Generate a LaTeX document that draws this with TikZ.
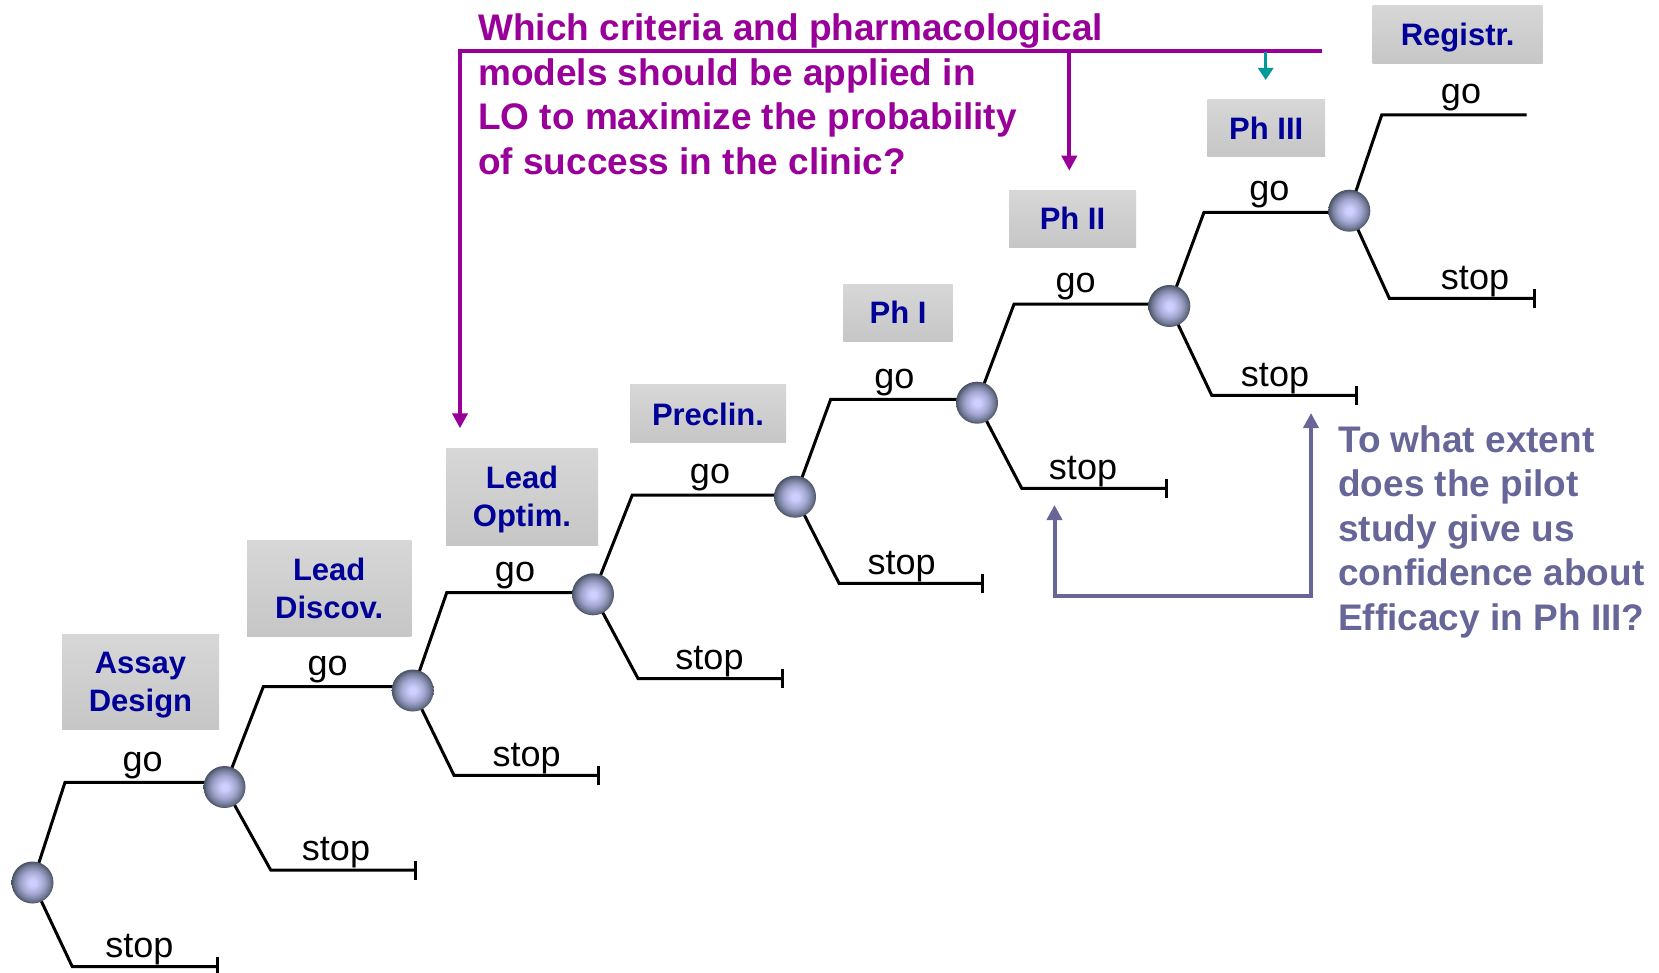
\documentclass[tikz,border=0pt]{standalone}
\usepackage{fontspec}
\setmainfont{Liberation Sans}
\usetikzlibrary{arrows.meta,backgrounds}

\definecolor{stageblue}{RGB}{0,0,153}
\definecolor{qpurple}{RGB}{153,0,153}
\definecolor{qslate}{RGB}{102,102,153}
\definecolor{qteal}{RGB}{0,153,153}
\definecolor{boxtop}{RGB}{215,215,215}
\definecolor{boxbot}{RGB}{198,198,198}
\definecolor{orbA}{RGB}{206,206,255}
\definecolor{orbB}{RGB}{160,166,206}
\definecolor{orbC}{RGB}{112,120,148}
\definecolor{orbD}{RGB}{72,82,100}

% shaded sphere used for the decision points (path edge sits at 25bp)
\pgfdeclareradialshading{orbshade}{\pgfpoint{0bp}{0bp}}{%
  color(0bp)=(orbA); color(4bp)=(orbA); color(14bp)=(orbB);
  color(21bp)=(orbC); color(25bp)=(orbD); color(50bp)=(orbD)}

% last line of a stage label: no depth, so the capitals stay centred
\newcommand\stagetail[1]{\raisebox{0pt}[\height][0pt]{#1}}

\begin{document}
\begin{tikzpicture}[x=1pt,y=-1pt,
  branch/.style={line width=3pt, black},
  orb/.style={circle, minimum size=42pt, inner sep=0pt, shade, shading=orbshade},
  stage/.style={rectangle, draw=none, top color=boxtop, bottom color=boxbot,
    inner sep=0pt, align=center, text=stageblue,
    font=\fontsize{31}{38}\selectfont\bfseries},
  choice/.style={anchor=base, inner sep=0pt, font=\fontsize{36}{43}\selectfont},
  question/.style={anchor=north west, inner sep=0pt, align=left,
    font=\fontsize{37}{44.6}\selectfont\bfseries},
  qtip/.style={-{Triangle[width=15pt,length=15pt]}},
]
\useasboundingbox (0,0) rectangle (1659,973);

% decision points
\node[orb] (n0) at (32.5,882.5) {};
\node[orb] (n1) at (224.5,787) {};
\node[orb] (n2) at (412.7,690.5) {};
\node[orb] (n3) at (593,594.3) {};
\node[orb] (n4) at (795,496.7) {};
\node[orb] (n5) at (977,402.7) {};
\node[orb] (n6) at (1169.3,306) {};
\node[orb] (n7) at (1349.3,210.7) {};

% bends of the "go" branches
\coordinate (g0) at (65,782.3);
\coordinate (g1) at (263.3,686.7);
\coordinate (g2) at (446.7,592.7);
\coordinate (g3) at (632.3,495);
\coordinate (g4) at (830.7,399.3);
\coordinate (g5) at (1014,304.2);
\coordinate (g6) at (1204,212.3);
\coordinate (g7) at (1381.7,115);
\coordinate (g7end) at (1526.7,115);

% bends and ends of the "stop" branches
\coordinate (s0) at (72.3,966.7);   \coordinate (e0) at (217.3,966.7);
\coordinate (s1) at (270.7,870);    \coordinate (e1) at (415,870);
\coordinate (s2) at (454,775.3);    \coordinate (e2) at (598.3,775.3);
\coordinate (s3) at (638,678.5);    \coordinate (e3) at (782.5,678.5);
\coordinate (s4) at (839,583.3);    \coordinate (e4) at (982.7,583.3);
\coordinate (s5) at (1021.7,488.3); \coordinate (e5) at (1166,488.3);
\coordinate (s6) at (1211.7,395.3); \coordinate (e6) at (1356,395.3);
\coordinate (s7) at (1389.3,298.3); \coordinate (e7) at (1534,298.3);

\begin{scope}[on background layer]
  \foreach \k [evaluate=\k as \j using int(\k+1)] in {0,...,6}
    \draw[branch] (n\k.center) -- (g\k) -- (g\k -| n\j.center);
  \draw[branch] (n7.center) -- (g7) -- (g7end);
  \foreach \k in {0,...,7}{
    \draw[branch] (n\k.center) -- (s\k) -- (e\k);
    \draw[branch] (e\k) ++(0,-9.5) -- ++(0,19);
  }
\end{scope}

% branch labels
\node[choice] (lg0) at (142.7,771) {go};
\node[choice] (lg1) at (327.7,675.4) {go};
\node[choice] (lg2) at (515,581.4) {go};
\node[choice] (lg3) at (710,483.7) {go};
\node[choice] (lg4) at (894.3,388) {go};
\node[choice] (lg5) at (1075.7,292.9) {go};
\node[choice] (lg6) at (1269.3,201) {go};
\node[choice] (lg7) at (1461,103.7) {go};
\node[choice] (ls0) at (139.3,957.5) {stop};
\node[choice] (ls1) at (336,860.8) {stop};
\node[choice] (ls2) at (526.7,766.1) {stop};
\node[choice] (ls3) at (709.5,669.3) {stop};
\node[choice] (ls4) at (901.7,574.1) {stop};
\node[choice] (ls5) at (1083,479.1) {stop};
\node[choice] (ls6) at (1275,386.1) {stop};
\node[choice] (ls7) at (1475,289.1) {stop};

% stage labels
\node[stage, minimum width=157pt, minimum height=95pt] (assay) at (140.5,681.5) {Assay\\\stagetail{Design}};
\node[stage, minimum width=164.3pt, minimum height=96pt] (ldisc) at (329.2,588) {Lead\\\stagetail{Discov.}};
\node[stage, minimum width=152pt, minimum height=96.7pt] (lopt) at (522,496.7) {Lead\\\stagetail{Optim.}};
\node[stage, minimum width=156pt, minimum height=57.7pt] (precl) at (708,413.8) {\stagetail{Preclin.}};
\node[stage, minimum width=109.4pt, minimum height=57.3pt] (ph1) at (898,312.7) {\stagetail{Ph I}};
\node[stage, minimum width=127pt, minimum height=57.3pt] (ph2) at (1072.5,218.7) {\stagetail{Ph II}};
\node[stage, minimum width=117.7pt, minimum height=57.4pt] (ph3) at (1266.2,128) {\stagetail{Ph III}};
\node[stage, minimum width=170pt, minimum height=57.6pt] (reg) at (1457.7,34.5) {\stagetail{Registr.}};

% question on lead optimisation
\node[question, text=qpurple] (qlo) at (478,13.4)
  {Which criteria and pharmacological\\models should be applied in\\LO to maximize the probability\\of success in the clinic?};
\coordinate (qa) at (460,51);
\coordinate (qb) at (1321.7,51);
\coordinate (qlotip) at (460,428.3);
\coordinate (qph2tip) at (1069.3,170.7);
\coordinate (qph3top) at (1265.7,52);
\coordinate (qph3tip) at (1265.7,80);
\draw[qpurple, line width=4pt, qtip] (qb) -- (qa) -- (qlotip);
\draw[qpurple, line width=4pt, qtip] (qa -| qph2tip) -- (qph2tip);
\draw[qteal, line width=3pt, -{Triangle[width=15pt,length=12pt]}] (qph3top) -- (qph3tip);

% question on the pilot study
\node[question, text=qslate] (qpilot) at (1338,425.1)
  {To what extent\\does the pilot\\study give us\\confidence about\\Efficacy in Ph III?};
\coordinate (pa) at (1054.5,505);
\coordinate (pb) at (1311,413);
\coordinate (pbase) at (0,596);
\draw[qslate, line width=4pt, {Triangle[width=15pt,length=15pt]}-{Triangle[width=15pt,length=15pt]}]
  (pa) -- (pa |- pbase) -- (pb |- pbase) -- (pb);
\end{tikzpicture}
\end{document}
